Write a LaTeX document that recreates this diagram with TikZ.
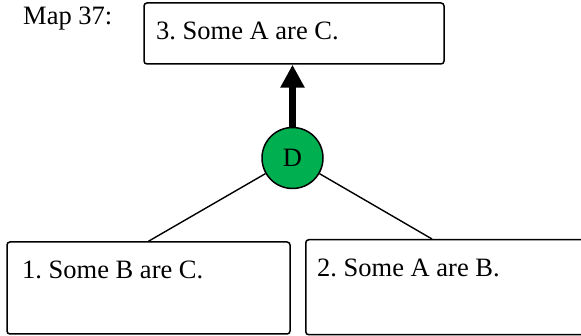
\documentclass[tikz,border=0pt]{standalone}
\usepackage{fontspec}
\setmainfont{Liberation Serif}
\usetikzlibrary{arrows.meta}
\definecolor{dgreen}{RGB}{0,176,80}
\frenchspacing
\begin{document}
\begin{tikzpicture}[x=1pt,y=-1pt,
  box/.style={draw,line width=1.5pt,rounded corners=3pt,inner sep=0pt},
  txt/.style={anchor=base west,inner sep=0pt,font=\rmfamily\fontsize{26.5}{30}\selectfont},
  conn/.style={line width=1.4pt}]
\clip (0,0) rectangle (581,336);
\useasboundingbox (0,0) rectangle (581,336);
\node[box,minimum width=300pt,minimum height=61pt] (top) at (294,33.5) {};
\node[box,minimum width=283pt,minimum height=92pt] (lb) at (148.5,288) {};
\node[box,minimum width=300pt,minimum height=95pt,anchor=north west] (rb) at (305,239) {};
\node[txt] (map) at (23,25) {Map 37:};
\node[txt] (t3) at (156,40) {3. Some A are C.};
\node[txt] (t1) at (22,279) {1. Some B are C.};
\node[txt] (t2) at (317,277) {2. Some A are B.};
\node[circle,draw,line width=1.5pt,fill=dgreen,minimum size=61pt,inner sep=0pt,
  font=\rmfamily\fontsize{26.5}{30}\selectfont] (d) at (292.5,158) {D};
\coordinate (rbt) at ([xshift=127pt]rb.north west);
\draw[conn] (d) -- (lb.north);
\draw[conn] (d) -- (rbt);
\draw[line width=7pt,-{Triangle[width=23pt,length=23pt]}] (d.north) -- (d.north |- top.south);
\end{tikzpicture}
\end{document}
